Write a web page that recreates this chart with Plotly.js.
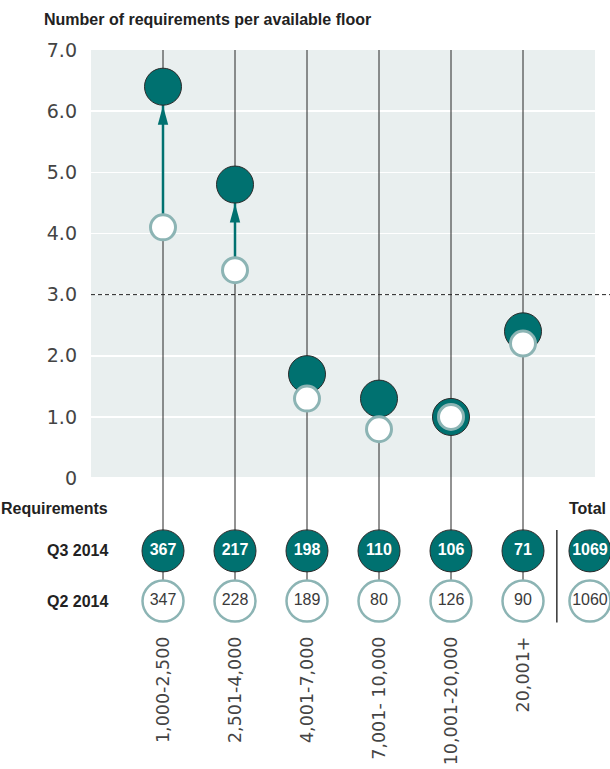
<!DOCTYPE html>
<html>
<head>
<meta charset="utf-8">
<script src="https://cdn.plot.ly/plotly-3.0.1.min.js"></script>
<style>
  html, body { margin: 0; padding: 0; background: #ffffff; }
  #chart { width: 610px; height: 769px; }
</style>
</head>
<body>
<div id="chart"></div>
<script>
// Floor size categories (sq ft)
const categories = ["1,000-2,500", "2,501-4,000", "4,001-7,000", "7,001- 10,000", "10,001-20,000", "20,001+"];

// Number of requirements per available floor
const ratioQ3 = [6.4, 4.8, 1.7, 1.3, 1.0, 2.4];
const ratioQ2 = [4.1, 3.4, 1.3, 0.8, 1.0, 2.2];

// Requirements counts
const reqQ3 = [367, 217, 198, 110, 106, 71];
const reqQ2 = [347, 228, 189, 80, 126, 90];
const totalQ3 = 1069;
const totalQ2 = 1060;

// Value axis ticks
const yTickVals = [0, 1, 2, 3, 4, 5, 6, 7];
const yTickText = ["0", "1.0", "2.0", "3.0", "4.0", "5.0", "6.0", "7.0"];
const threshold = 3.0;

// ---- layout constants ----
const TEAL = "#007170";
const RING = "#8cb4b4";
const DARK = "#2b2b2b";
const BG = "#e9efef";
const yTop = 7;
const rowHead = -0.49;     // "Requirements" header row
const rowQ3 = -1.19;       // Q3 2014 counts row
const rowQ2 = -2.01;       // Q2 2014 counts row
const totalX = 5.93;       // "Total" column
const sepX = 5.47;         // divider before totals

const idx = categories.map((_, i) => i);

// vertical stems from top of the panel down to the Q2 count circles
const stemX = [], stemY = [];
idx.forEach(i => { stemX.push(i, i, null); stemY.push(yTop, rowQ2, null); });

// rising arrows where the two circles are clearly apart
const arrowIdx = idx.filter(i => ratioQ3[i] - ratioQ2[i] > 0.85);
const arrX = [], arrY = [];
arrowIdx.forEach(i => { arrX.push(i, i, null); arrY.push(ratioQ2[i], ratioQ3[i], null); });

const sansFont = "Liberation Sans, Arial, sans-serif";
const numFont = "DejaVu Sans, sans-serif";

const traces = [
  { type: "scatter", mode: "lines", x: stemX, y: stemY, hoverinfo: "skip",
    line: { color: "#262626", width: 1 }, cliponaxis: false, showlegend: false },
  { type: "scatter", mode: "lines", x: arrX, y: arrY, hoverinfo: "skip",
    line: { color: TEAL, width: 2.5 }, showlegend: false },
  { type: "scatter", mode: "markers", x: idx, y: ratioQ3, name: "Q3 2014",
    marker: { size: 37, color: TEAL, line: { color: DARK, width: 1 } }, showlegend: false },
  { type: "scatter", mode: "markers", x: idx, y: ratioQ2, name: "Q2 2014",
    marker: { size: 25, color: "#ffffff", line: { color: RING, width: 3 } }, showlegend: false },
  { type: "scatter", mode: "markers+text", cliponaxis: false, showlegend: false,
    x: idx.concat([totalX]), y: idx.map(() => rowQ3).concat([rowQ3]),
    text: reqQ3.concat([totalQ3]).map(String), textposition: "middle center",
    textfont: { family: sansFont, size: 16, color: "#ffffff", weight: "bold" },
    marker: { size: 42, color: TEAL, line: { color: DARK, width: 1 } }, hoverinfo: "skip" },
  { type: "scatter", mode: "markers+text", cliponaxis: false, showlegend: false,
    x: idx.concat([totalX]), y: idx.map(() => rowQ2).concat([rowQ2]),
    text: reqQ2.concat([totalQ2]).map(String), textposition: "middle center",
    textfont: { family: sansFont, size: 16, color: "#3a3a3a" },
    marker: { size: 41, color: "#ffffff", line: { color: RING, width: 2.5 } }, hoverinfo: "skip" }
];

const shapes = [
  // panel background for the ratio section
  { type: "rect", xref: "x", yref: "y", x0: -1, x1: 6, y0: 0, y1: yTop,
    fillcolor: BG, line: { width: 0 }, layer: "below" },
  // threshold line
  { type: "line", xref: "paper", yref: "y", x0: 0, x1: 1.03, y0: threshold, y1: threshold,
    line: { color: "#222222", width: 1, dash: "4px,3px" }, layer: "above" },
  // divider before totals
  { type: "line", xref: "x", yref: "y", x0: sepX, x1: sepX, y0: -0.85, y1: -2.36,
    line: { color: "#333333", width: 1.5 }, layer: "above" }
];
// arrowheads touching the bottom of each Q3 circle
arrowIdx.forEach(i => {
  shapes.push({ type: "path", xref: "x", yref: "y", xsizemode: "pixel", ysizemode: "pixel",
    xanchor: i, yanchor: ratioQ3[i], path: "M-5.2,-38 L5.2,-38 L0,-19 Z",
    fillcolor: TEAL, line: { width: 0 }, layer: "above" });
});

const labelX = (110 - 91) / 504;
const annotations = [
  { xref: "paper", yref: "y", x: labelX, y: rowHead, xanchor: "right", yanchor: "middle",
    text: "<b>Requirements</b>", showarrow: false, font: { family: sansFont, size: 16, color: "#222" } },
  { xref: "paper", yref: "y", x: labelX, y: rowQ3, xanchor: "right", yanchor: "middle",
    text: "<b>Q3 2014</b>", showarrow: false, font: { family: sansFont, size: 16, color: "#222" } },
  { xref: "paper", yref: "y", x: labelX, y: rowQ2, xanchor: "right", yanchor: "middle",
    text: "<b>Q2 2014</b>", showarrow: false, font: { family: sansFont, size: 16, color: "#222" } },
  { xref: "paper", yref: "y", x: labelX, y: -2.55, xanchor: "right", yanchor: "top", align: "right",
    text: "<b>Floor size</b><br><b>category</b><br><b>(sq ft)</b>", showarrow: false,
    font: { family: sansFont, size: 16, color: "#222" } },
  { xref: "paper", yref: "y", x: (608 - 91) / 504, y: rowHead, xanchor: "right", yanchor: "middle",
    text: "<b>Total</b>", showarrow: false, font: { family: sansFont, size: 16, color: "#222" } }
];

const layout = {
  width: 610, height: 769,
  margin: { l: 91, r: 15, t: 50, b: 138, pad: 0 },
  paper_bgcolor: "#ffffff", plot_bgcolor: "rgba(0,0,0,0)",
  title: { text: "<b>Number of requirements per available floor</b>", xref: "container", yref: "container",
    x: 44 / 610, xanchor: "left", y: 1 - 19 / 769, yanchor: "middle",
    font: { family: sansFont, size: 16, color: "#222" } },
  xaxis: { range: [-1, 6], tickvals: idx, ticktext: categories, tickangle: -90,
    showgrid: false, zeroline: false, showline: false, ticks: "", ticklabelstandoff: 1,
    tickfont: { family: numFont, size: 17.5, color: "#444" }, fixedrange: true },
  yaxis: { range: [-2.5, yTop], tickvals: yTickVals, ticktext: yTickText,
    showgrid: true, gridcolor: "#ffffff", gridwidth: 1.5, zeroline: false, showline: false,
    ticks: "", ticklabelstandoff: 13, tickfont: { family: numFont, size: 19, color: "#444" }, fixedrange: true },
  shapes: shapes,
  annotations: annotations,
  showlegend: false,
  hovermode: false
};

Plotly.newPlot("chart", traces, layout, { displayModeBar: false, staticPlot: true });
</script>
</body>
</html>
